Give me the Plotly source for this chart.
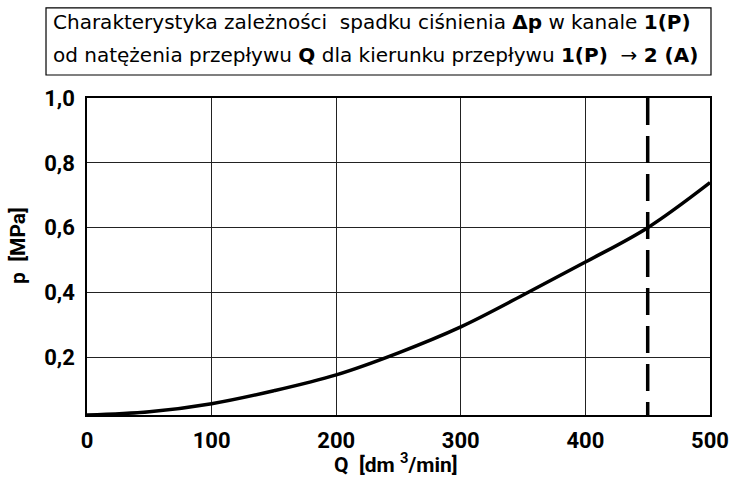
import plotly.graph_objects as go

# Data
Q = [0, 50, 100, 150, 200, 250, 300, 350, 400, 450, 500]
p = [0.022, 0.032, 0.057, 0.097, 0.146, 0.214, 0.294, 0.392, 0.494, 0.600, 0.739]
q_limit = [450, 450]
p_limit = [1.0, 0.022]

x_ticks = [0, 100, 200, 300, 400, 500]
x_tick_text = ["0", "100", "200", "300", "400", "500"]
y_ticks = [0.2, 0.4, 0.6, 0.8, 1.0]
y_tick_text = ["0,2", "0,4", "0,6", "0,8", "1,0"]

TICKFONT = "Roboto, Open Sans, sans-serif"
TEXTFONT = "DejaVu Sans, sans-serif"

fig = go.Figure()
fig.add_trace(go.Scatter(x=q_limit, y=p_limit, mode="lines",
                         line=dict(color="black", width=3.5, dash="27px,11px"),
                         hoverinfo="skip", showlegend=False))
fig.add_trace(go.Scatter(x=Q, y=p, mode="lines", line_shape="spline",
                         line=dict(color="black", width=3.5),
                         showlegend=False))

fig.update_layout(
    width=729, height=477,
    margin=dict(l=87, r=19, t=98, b=62, autoexpand=False),
    paper_bgcolor="white", plot_bgcolor="white",
    font=dict(family=TEXTFONT, color="black"),
    xaxis=dict(range=[0, 500], tickvals=x_ticks, ticktext=x_tick_text,
               showgrid=True, gridcolor="#222", gridwidth=1,
               showline=True, linecolor="black", linewidth=1.5, mirror=True,
               ticks="outside", ticklen=5, tickcolor="white", zeroline=False,
               automargin=False,
               tickfont=dict(size=22, family=TICKFONT, weight="bold")),
    yaxis=dict(range=[0.022, 1.0], tickvals=y_ticks, ticktext=y_tick_text,
               showgrid=True, gridcolor="#222", gridwidth=1,
               showline=True, linecolor="black", linewidth=1.5, mirror=True,
               ticks="outside", ticklen=6, tickcolor="white", zeroline=False,
               automargin=False,
               tickfont=dict(size=22, family=TICKFONT, weight="bold")),
)

# Title box
fig.add_shape(type="rect", xref="paper", yref="paper",
              x0=-0.0658, x1=1.0016, y0=1.0726, y1=1.284,
              line=dict(color="black", width=1.2), fillcolor="white")
fig.add_annotation(xref="paper", yref="paper", x=-0.058, y=(415 - 22) / 317,
                   xanchor="left", yanchor="middle", showarrow=False,
                   text="Charakterystyka zależności  spadku ciśnienia <b>Δp</b> w kanale <b>1(P)</b>",
                   font=dict(size=20, family=TEXTFONT, color="black"))
fig.add_annotation(xref="paper", yref="paper", x=-0.058, y=(415 - 55) / 317,
                   xanchor="left", yanchor="middle", showarrow=False,
                   text="od natężenia przepływu <b>Q</b> dla kierunku przepływu <b>1(P)</b>  → <b>2 (A)</b>",
                   font=dict(size=20, family=TEXTFONT, color="black"))

# Axis titles
fig.add_annotation(xref="paper", yref="paper", x=(396 - 87) / 623, y=(415 - 463) / 317,
                   xanchor="center", yanchor="middle", showarrow=False,
                   text="Q  [dm <sup>3</sup>/min]",
                   font=dict(size=21, family=TICKFONT, color="black", weight="bold"))
fig.add_annotation(xref="paper", yref="paper", x=(18 - 87) / 623, y=(415 - 246) / 317,
                   xanchor="center", yanchor="middle", showarrow=False, textangle=-90,
                   text="p  [MPa]",
                   font=dict(size=21, family=TICKFONT, color="black", weight="bold"))

fig.write_html("out.html", config={"displayModeBar": False},
               post_script="document.body.style.margin='0';document.body.style.overflow='hidden';")
